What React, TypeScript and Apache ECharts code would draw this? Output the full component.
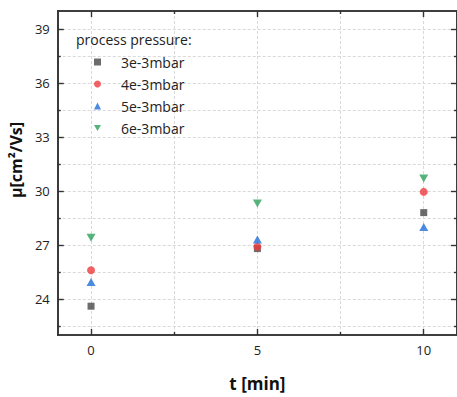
import React, { useEffect, useRef } from "react";
import * as echarts from "echarts";

const tValues = [0, 5, 10];
const seriesNames = ["3e-3mbar", "4e-3mbar", "5e-3mbar", "6e-3mbar"];
const p3 = [23.6, 26.8, 28.8];
const p4 = [25.6, 26.9, 29.95];
const p5 = [24.95, 27.3, 28.0];
const p6 = [27.4, 29.3, 30.7];
const xMajorTicks = [0, 5, 10];
const xMinorTicks = [2.5, 7.5];
const yMajorTicks = [24, 27, 30, 33, 36, 39];
const yMinorTicks = [22.5, 25.5, 28.5, 31.5, 34.5, 37.5];

const FONT = "'Open Sans', 'Noto Sans', sans-serif";
const AXIS_COLOR = "#333333";
const GRID_COLOR = "#d9d9d9";

const X_MIN = -1;
const X_MAX = 11;
const Y_MIN = 22;
const Y_MAX = 40;

function xAxisDef(position: "top" | "bottom", ticks: number[], len: number, labels: boolean, name: boolean, split: boolean) {
  return {
    type: "value",
    position,
    min: X_MIN,
    max: X_MAX,
    name: name ? "t [min]" : "",
    nameLocation: "middle",
    nameGap: 40,
    nameTextStyle: { fontFamily: FONT, fontSize: 17, fontWeight: "bold", color: "#111" },
    axisLine: { show: true, onZero: false, lineStyle: { color: AXIS_COLOR, width: 1.6 } },
    axisTick: { show: true, inside: true, length: len, customValues: ticks, lineStyle: { color: AXIS_COLOR, width: 1.4 } },
    axisLabel: {
      show: labels,
      customValues: ticks,
      margin: 8,
      fontFamily: FONT,
      fontSize: 13,
      color: "#222",
    },
    splitLine: { show: split, lineStyle: { color: GRID_COLOR, type: [3, 2], width: 1 } },
  };
}

function yAxisDef(position: "left" | "right", ticks: number[], len: number, labels: boolean, name: boolean, split: boolean) {
  return {
    type: "value",
    position,
    min: Y_MIN,
    max: Y_MAX,
    name: name ? "μ[cm²/Vs]" : "",
    nameLocation: "middle",
    nameGap: 30,
    nameTextStyle: { fontFamily: FONT, fontSize: 16, fontWeight: "bold", color: "#111", padding: [0, 0, 0, 26] },
    axisLine: { show: true, onZero: false, lineStyle: { color: AXIS_COLOR, width: 1.6 } },
    axisTick: { show: true, inside: true, length: len, customValues: ticks, lineStyle: { color: AXIS_COLOR, width: 1.4 } },
    axisLabel: {
      show: labels,
      customValues: ticks,
      margin: 8,
      fontFamily: FONT,
      fontSize: 13,
      color: "#222",
    },
    splitLine: { show: split, lineStyle: { color: GRID_COLOR, type: [3, 2], width: 1 } },
  };
}

function pairs(values: number[]) {
  return tValues.map((t, i) => [t, values[i]]);
}

export default function App() {
  const ref = useRef<HTMLDivElement>(null);
  useEffect(() => {
    document.body.style.margin = "0";
    if (!ref.current) return;
    const chart = echarts.init(ref.current, null, { renderer: "svg" });
    const option = {
      animation: false,
      backgroundColor: "#ffffff",
      textStyle: { fontFamily: FONT },
      title: {
        text: "process pressure:",
        left: 76,
        top: 32,
        padding: 0,
        textStyle: { fontFamily: FONT, fontSize: 14, fontWeight: "normal", color: "#222" },
      },
      legend: {
        orient: "vertical",
        left: 94,
        top: 55,
        padding: 0,
        itemWidth: 7,
        itemHeight: 7,
        itemGap: 8,
        data: seriesNames,
        textStyle: { fontFamily: FONT, fontSize: 14, color: "#222", lineHeight: 14, padding: [0, 0, 0, 15] },
      },
      grid: { left: 57, top: 11, right: -5, bottom: 60, containLabel: false },
      xAxis: [
        xAxisDef("bottom", xMajorTicks, 6, true, true, true),
        xAxisDef("bottom", xMinorTicks, 3, false, false, true),
        xAxisDef("top", xMajorTicks, 6, false, false, false),
        xAxisDef("top", xMinorTicks, 3, false, false, false),
      ],
      yAxis: [
        yAxisDef("left", yMajorTicks, 6, true, true, true),
        yAxisDef("left", yMinorTicks, 3, false, false, true),
        yAxisDef("right", yMajorTicks, 6, false, false, false),
        yAxisDef("right", yMinorTicks, 3, false, false, false),
      ],
      series: [
        {
          name: seriesNames[0],
          type: "scatter",
          symbol: "rect",
          symbolSize: 7,
          itemStyle: { color: "#474747" },
          data: pairs(p3),
        },
        {
          name: seriesNames[1],
          type: "scatter",
          symbol: "circle",
          symbolSize: 8,
          itemStyle: { color: "#ee3b3f" },
          data: pairs(p4),
        },
        {
          name: seriesNames[2],
          type: "scatter",
          symbol: "triangle",
          symbolSize: [9, 8],
          itemStyle: { color: "#1f6ed8" },
          data: pairs(p5),
        },
        {
          name: seriesNames[3],
          type: "scatter",
          symbol: "path://M0,0 L10,0 L5,8.66 Z",
          symbolSize: [9, 8],
          itemStyle: { color: "#2ea05c" },
          data: pairs(p6),
        },
      ],
    };
    chart.setOption(option as any);
    return () => chart.dispose();
  }, []);
  return <div ref={ref} style={{ width: 457, height: 397 }} />;
}
